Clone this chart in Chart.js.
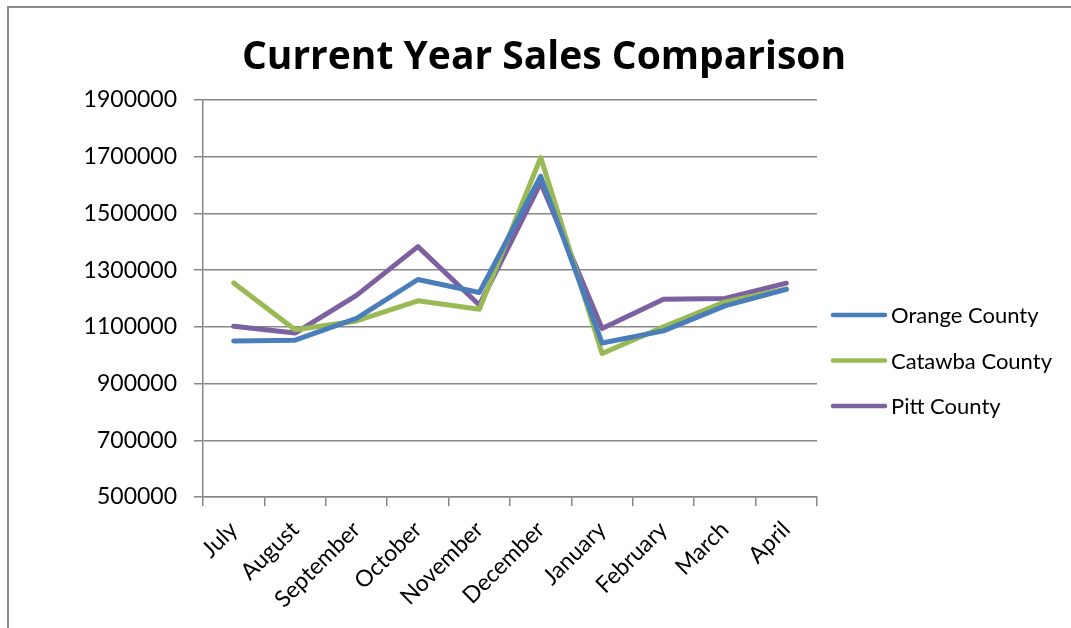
<!DOCTYPE html>
<html>
<head>
<meta charset="utf-8">
<title>Current Year Sales Comparison</title>
<script src="https://cdn.jsdelivr.net/npm/chart.js@4.4.1/dist/chart.umd.min.js"></script>
<style>
  body { margin: 0; background: #fff; }
  #wrap { position: relative; width: 1071px; height: 628px; overflow: hidden; }
  #frame { position: absolute; left: 7px; top: 6px; width: 1100px; height: 700px;
           border-top: 2px solid #8c8c8c; border-left: 2px solid #8c8c8c; }
  canvas { position: absolute; left: 0; top: 0; }
</style>
</head>
<body>
<div id="wrap">
  <div id="frame"></div>
  <canvas id="myChart" width="1071" height="628"></canvas>
</div>
<script>
'use strict'

let months = ['July', 'August', 'September', 'October', 'November', 'December', 'January', 'February', 'March', 'April'];

let orangeSales = [1050000, 1053000, 1130000, 1267000, 1221000, 1631000, 1043000, 1086000, 1174000, 1232000];
let catawbaSales = [1255000, 1090000, 1121000, 1192000, 1162000, 1697000, 1006000, 1100000, 1188000, 1234000];
let pittSales = [1102000, 1078000, 1211000, 1383000, 1177000, 1608000, 1094000, 1197000, 1200000, 1254000];

let countyNames = ['Orange County', 'Catawba County', 'Pitt County'];
let countyColors = ['rgb(74, 126, 187)', 'rgb(152, 185, 84)', 'rgb(125, 96, 160)'];

let yTicks = [500000, 700000, 900000, 1100000, 1300000, 1500000, 1700000, 1900000];

let axisGray = '#878787';

// legend drawn by hand so the rows can sit where they should
let sideLegend = {
  id: 'sideLegend',
  afterDraw(chart) {
    let ctx = chart.ctx;
    let area = chart.chartArea;
    ctx.save();
    ctx.font = '22px Lato';
    ctx.textBaseline = 'middle';
    ctx.textAlign = 'left';
    for (let i = 0; i < chart.data.datasets.length; i++) {
      let ds = chart.data.datasets[i];
      let y = area.top + 215 + i * 45.5;
      ctx.strokeStyle = ds.borderColor;
      ctx.lineWidth = 4.5;
      ctx.lineCap = 'round';
      ctx.beginPath();
      ctx.moveTo(area.right + 16, y);
      ctx.lineTo(area.right + 68, y);
      ctx.stroke();
      ctx.fillStyle = '#000';
      ctx.fillText(ds.label, area.right + 74, y + 1);
    }
    ctx.restore();
  }
};

let datasets = [orangeSales, catawbaSales, pittSales].map(function (values, i) {
  return {
    label: countyNames[i],
    data: values,
    borderColor: countyColors[i],
    backgroundColor: countyColors[i],
    borderWidth: 5,
    pointRadius: 0,
    tension: 0,
    borderJoinStyle: 'round',
    borderCapStyle: 'round'
  };
});

let ctx = document.getElementById('myChart').getContext('2d');
let chart = new Chart(ctx, {
  type: 'line',
  data: {
    labels: months,
    datasets: datasets
  },
  plugins: [sideLegend],
  options: {
    responsive: false,
    animation: false,
    layout: { padding: { left: 17, right: 0, top: 0, bottom: 0 } },
    plugins: {
      legend: { display: false },
      tooltip: { enabled: false },
      title: {
        display: true,
        text: 'Current Year Sales Comparison',
        color: '#000',
        font: { family: 'Open Sans', size: 39, weight: 'bold', lineHeight: 1.2 },
        padding: { top: 34, bottom: 19.2 }
      }
    },
    scales: {
      x: {
        offset: true,
        grid: { display: true, drawOnChartArea: false, drawTicks: true, offset: true, tickLength: 9, color: axisGray, lineWidth: 1.5 },
        border: { display: true, color: axisGray, width: 1.5 },
        ticks: {
          color: '#000',
          font: { family: 'Lato', size: 23 },
          minRotation: 45,
          maxRotation: 45,
          padding: 10,
          autoSkip: false
        },
        afterFit(scale) { scale.height = 131; }
      },
      y: {
        min: 500000,
        max: 1900000,
        afterBuildTicks(scale) { scale.ticks = yTicks.map(v => ({ value: v })); },
        grid: { color: axisGray, lineWidth: 1.5, tickLength: 9 },
        border: { display: true, color: axisGray, width: 1.5 },
        ticks: {
          color: '#000',
          font: { family: 'Lato', size: 23 },
          padding: 17,
          callback: value => String(value)
        },
        afterFit(scale) { scale.width = 186; }
      },
      // empty axis on the right keeps room for the legend
      legendRoom: {
        position: 'right',
        display: true,
        grid: { display: false },
        border: { display: false },
        ticks: { display: false },
        afterFit(scale) { scale.width = 254; }
      }
    }
  }
});
</script>
</body>
</html>
